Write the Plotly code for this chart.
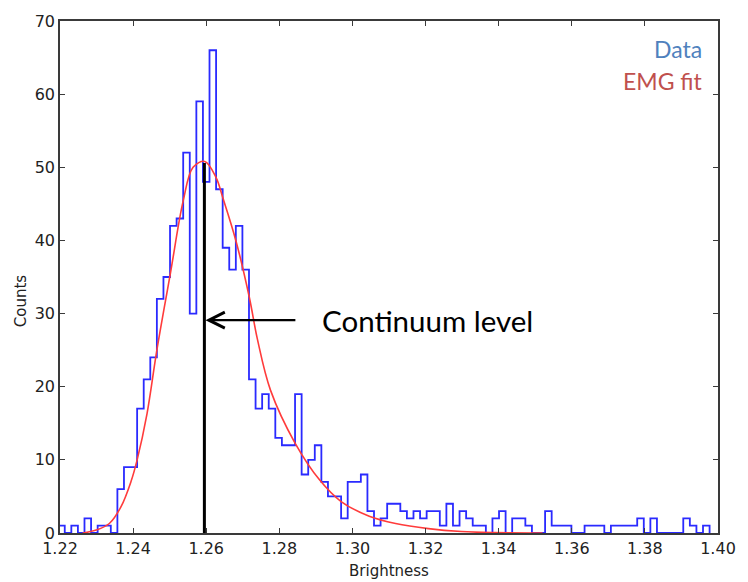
import plotly.graph_objects as go

# ---- data ----
bin_start = 1.2195
bin_width = 0.0018
counts = [1, 0, 1, 0, 2, 0, 1, 1, 0, 6,
          9, 9, 17, 21, 24, 32, 35, 42, 43, 52,
          30, 59, 48, 66, 47, 39, 36, 42, 36, 21,
          17, 19, 17, 13, 12, 12, 19, 8, 10, 12,
          7, 5, 5, 2, 7, 7, 8, 3, 1, 2,
          4, 4, 3, 2, 3, 2, 3, 3, 1, 4,
          1, 3, 2, 1, 1, 0, 2, 3, 0, 2,
          2, 1, 0, 0, 3, 1, 1, 1, 0, 0,
          1, 1, 1, 0, 1, 1, 1, 1, 2, 0,
          2, 0, 0, 0, 0, 2, 1, 0, 1]

fit_x = [1.2262, 1.2299, 1.2335, 1.2367, 1.2394, 1.2411, 1.2438, 1.2465, 1.2502,
         1.2537, 1.2564, 1.2596, 1.2627, 1.2645, 1.2681, 1.2718, 1.2740, 1.2776,
         1.2843, 1.2911, 1.2969, 1.3046, 1.3118, 1.3208, 1.3298, 1.3388, 1.3520]
fit_y = [0.0, 0.4, 1.3, 3.6, 7.0, 10.0, 16.3, 25.0, 35.5,
         45.4, 50.0, 50.8, 48.6, 45.9, 40.0, 32.2, 26.5, 19.5,
         12.3, 7.2, 4.3, 2.3, 1.3, 0.6, 0.2, 0.05, 0.0]

continuum_x = 1.2595
continuum_top = 50.6
arrow_y = 29.1
arrow_tail_x = 1.2848
label_x = 1.2910

x_ticks = [1.22, 1.24, 1.26, 1.28, 1.30, 1.32, 1.34, 1.36, 1.38, 1.40]
x_tick_text = ["1.22", "1.24", "1.26", "1.28", "1.30", "1.32", "1.34", "1.36", "1.38", "1.40"]
y_ticks = [0, 10, 20, 30, 40, 50, 60, 70]

# ---- build step outline ----
edges = [bin_start + i * bin_width for i in range(len(counts) + 1)]
step_x = [edges[0]] + edges[:-1] + [edges[-1], edges[-1]]
step_y = [0] + counts + [counts[-1], 0]

fig = go.Figure()
fig.add_trace(go.Scatter(x=step_x, y=step_y, mode="lines", line_shape="hv",
                         line=dict(color="#2a2aff", width=1.8), showlegend=False,
                         hoverinfo="skip"))
fig.add_trace(go.Scatter(x=fit_x, y=fit_y, mode="lines", line_shape="spline",
                         line=dict(color="#ff3b3b", width=1.6, smoothing=1.0),
                         showlegend=False, hoverinfo="skip"))
fig.add_trace(go.Scatter(x=[continuum_x, continuum_x], y=[0, continuum_top], mode="lines",
                         line=dict(color="black", width=3), showlegend=False,
                         hoverinfo="skip"))

fig.add_annotation(x=continuum_x + 0.0003, y=arrow_y, ax=arrow_tail_x, ay=arrow_y,
                   xref="x", yref="y", axref="x", ayref="y", text="",
                   showarrow=True, arrowhead=5, arrowsize=1.3, arrowwidth=2.4,
                   arrowcolor="black")
fig.add_annotation(x=label_x, y=arrow_y - 0.1, xref="x", yref="y", text="Continuum level",
                   showarrow=False, xanchor="left", yanchor="middle",
                   font=dict(family="Lato", size=29.5, color="black"))
fig.add_annotation(x=0.979, y=0.946, xref="paper", yref="paper", text="Data",
                   showarrow=False, xanchor="right", yanchor="middle",
                   font=dict(family="Lato", size=23, color="#4f81bd"))
fig.add_annotation(x=0.979, y=0.882, xref="paper", yref="paper", text="EMG fit",
                   showarrow=False, xanchor="right", yanchor="middle",
                   font=dict(family="Lato", size=23, color="#c0504d"))

# axis titles
fig.add_annotation(x=0.5, y=-0.0734, xref="paper", yref="paper", text="Brightness",
                   showarrow=False, xanchor="center", yanchor="middle",
                   font=dict(family="DejaVu Sans", size=15, color="#222222"))
fig.add_annotation(x=-0.06, y=0.4537, xref="paper", yref="paper", text="Counts",
                   showarrow=False, xanchor="center", yanchor="middle", textangle=-90,
                   font=dict(family="DejaVu Sans", size=15, color="#222222"))

axis_common = dict(showline=True, linecolor="#3a3a3a", linewidth=1.5, mirror="ticks",
                   ticks="inside", ticklen=5, tickcolor="#3a3a3a", tickwidth=1,
                   showgrid=False, zeroline=False,
                   tickfont=dict(family="DejaVu Sans", size=16, color="#222222"))

fig.update_xaxes(range=[1.22, 1.40], tickvals=x_ticks, ticktext=x_tick_text, **axis_common)
fig.update_yaxes(range=[0, 70], tickvals=y_ticks, **axis_common)

fig.update_layout(width=748, height=582, margin=dict(l=60, r=21, t=15, b=49),
                  plot_bgcolor="white", paper_bgcolor="white")

fig.write_html("out.html")
